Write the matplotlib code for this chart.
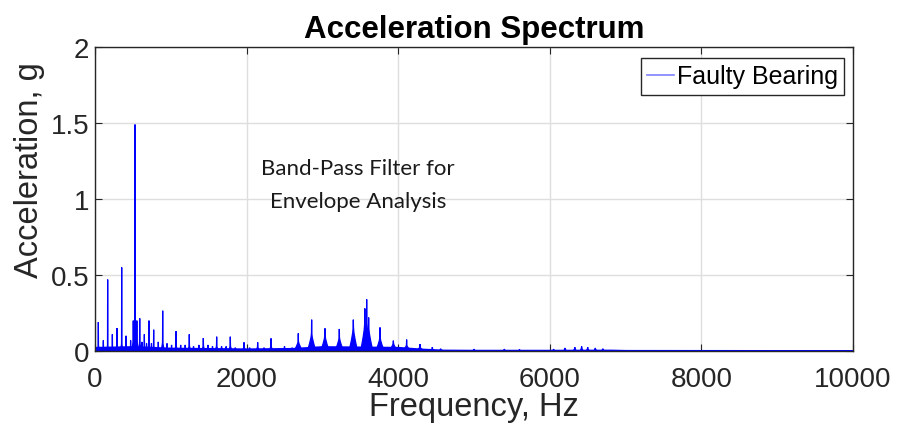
import matplotlib
matplotlib.use("Agg")
import matplotlib.pyplot as plt
from matplotlib.lines import Line2D

# Discrete spectral peaks: frequency (Hz), peak amplitude (g), skirt height (g)
peak_freq = [44, 110, 167, 229, 290, 352, 409, 470, 505, 528, 552, 590, 620,
             651, 680, 712, 745, 774, 835, 893, 950, 1010, 1069, 1130, 1190,
             1244, 1300, 1370, 1429, 1490, 1550, 1605, 1670, 1730, 1785, 1850,
             1966, 2040, 2146, 2230, 2322, 2500, 2600, 2682, 2858, 3034, 3223,
             3408, 3560, 3584, 3610, 3760, 3936, 4111, 4287, 4450, 4560,
             5000, 5400, 5600, 6050, 6200, 6330, 6420, 6500, 6600, 6700]
peak_amp = [0.19, 0.07, 0.47, 0.11, 0.15, 0.55, 0.10, 0.07, 0.20, 1.49, 0.20,
            0.215, 0.06, 0.11, 0.05, 0.20, 0.05, 0.14, 0.06, 0.265, 0.05, 0.04,
            0.13, 0.04, 0.04, 0.11, 0.03, 0.04, 0.085, 0.04, 0.03, 0.094, 0.03,
            0.03, 0.094, 0.02, 0.057, 0.02, 0.057, 0.02, 0.083, 0.03, 0.02,
            0.116, 0.206, 0.149, 0.145, 0.206, 0.28, 0.34, 0.22, 0.155, 0.068,
            0.075, 0.046, 0.025, 0.015, 0.012, 0.012, 0.010, 0.012, 0.020,
            0.025, 0.030, 0.025, 0.020, 0.015]
skirt_amp = [0.03, 0.02, 0.03, 0.02, 0.03, 0.04, 0.02, 0.02, 0.06, 0.08, 0.06,
             0.05, 0.02, 0.03, 0.02, 0.04, 0.02, 0.03, 0.02, 0.05, 0.02, 0.02,
             0.03, 0.02, 0.02, 0.03, 0.02, 0.02, 0.03, 0.02, 0.02, 0.03, 0.02,
             0.02, 0.03, 0.015, 0.025, 0.015, 0.025, 0.015, 0.03, 0.02, 0.015,
             0.05, 0.09, 0.08, 0.07, 0.12, 0.14, 0.15, 0.12, 0.07, 0.04, 0.03,
             0.02, 0.015, 0.01, 0.008, 0.008, 0.006, 0.008, 0.012, 0.015,
             0.018, 0.015, 0.012, 0.01]

# Broadband floor of the spectrum
floor_freq = [0, 500, 1000, 2000, 2600, 3000, 4000, 4300, 4600, 5000, 6000,
              6800, 7000, 10000]
floor_level = [0.025, 0.03, 0.02, 0.015, 0.018, 0.03, 0.025, 0.014, 0.007,
               0.006, 0.006, 0.007, 0.005, 0.004]

x_ticks = [0, 2000, 4000, 6000, 8000, 10000]
y_ticks = [0, 0.5, 1, 1.5, 2]
y_tick_labels = ["0", "0.5", "1", "1.5", "2"]

BLUE = (0, 0, 1)
TXT = "#262626"
plt.rcParams["font.family"] = ["Liberation Sans", "DejaVu Sans"]

fig = plt.figure(figsize=(8.99, 4.39), dpi=100)
ax = fig.add_axes([95 / 899, 87 / 439, 758 / 899, 304 / 439])

# floor
ax.fill_between(floor_freq, 0, floor_level, color=BLUE, lw=1.2)

# peaks drawn as narrow spikes with a broader skirt at the base
for f, a, s in zip(peak_freq, peak_amp, skirt_amp):
    w = 55 if 2600 < f < 4400 else 22
    xs = [f - w, f - 0.45 * w, f - 0.15 * w, f - 2, f, f + 2, f + 0.15 * w,
          f + 0.45 * w, f + w]
    ys = [0, s * 0.6, s, s * 1.3, a, s * 1.3, s, s * 0.6, 0]
    ax.fill(xs, ys, color=BLUE, lw=0.9)

ax.set_xlim(0, 10000)
ax.set_ylim(0, 2)
ax.set_xticks(x_ticks)
ax.set_xticklabels([str(t) for t in x_ticks])
ax.set_yticks(y_ticks)
ax.set_yticklabels(y_tick_labels)
ax.grid(True, color="#dedede", lw=1.0)
ax.set_axisbelow(True)
ax.tick_params(direction="in", length=5, width=0.8, color=TXT,
               top=True, right=True, labelsize=20, labelcolor=TXT)
ax.tick_params(axis="x", pad=11)
ax.tick_params(axis="y", pad=4)
for sp in ax.spines.values():
    sp.set_color(TXT)
    sp.set_linewidth(1.0)

ax.set_title("Acceleration Spectrum", fontsize=22.5, fontweight="bold",
             color="black", pad=7)
ax.set_xlabel("Frequency, Hz", fontsize=23.5, color=TXT)
ax.set_ylabel("Acceleration, g", fontsize=23.5, color=TXT)
ax.xaxis.set_label_coords(0.5, -0.132)
ax.yaxis.set_label_coords(-0.066, 0.6)

ax.text(358 / 899, (439 - 169) / 439, "Band-Pass Filter for",
        transform=fig.transFigure, ha="center", va="center",
        fontsize=16, family=["Lato", "DejaVu Sans"], color="#1a1a1a")
ax.text(358 / 899, (439 - 202) / 439, "Envelope Analysis",
        transform=fig.transFigure, ha="center", va="center",
        fontsize=16, family=["Lato", "DejaVu Sans"], color="#1a1a1a")

handle = Line2D([], [], color=(0.5, 0.5, 1.0), lw=1.2)
leg = ax.legend([handle], ["Faulty Bearing"], loc="upper right",
                bbox_to_anchor=(844 / 899, (439 - 59) / 439),
                bbox_transform=fig.transFigure, fontsize=18,
                fancybox=False, framealpha=1, edgecolor=TXT,
                handlelength=1.1, handletextpad=0.1, borderpad=0.25,
                borderaxespad=0)
leg.get_frame().set_linewidth(1.0)

fig.savefig("out.png", dpi=100)
